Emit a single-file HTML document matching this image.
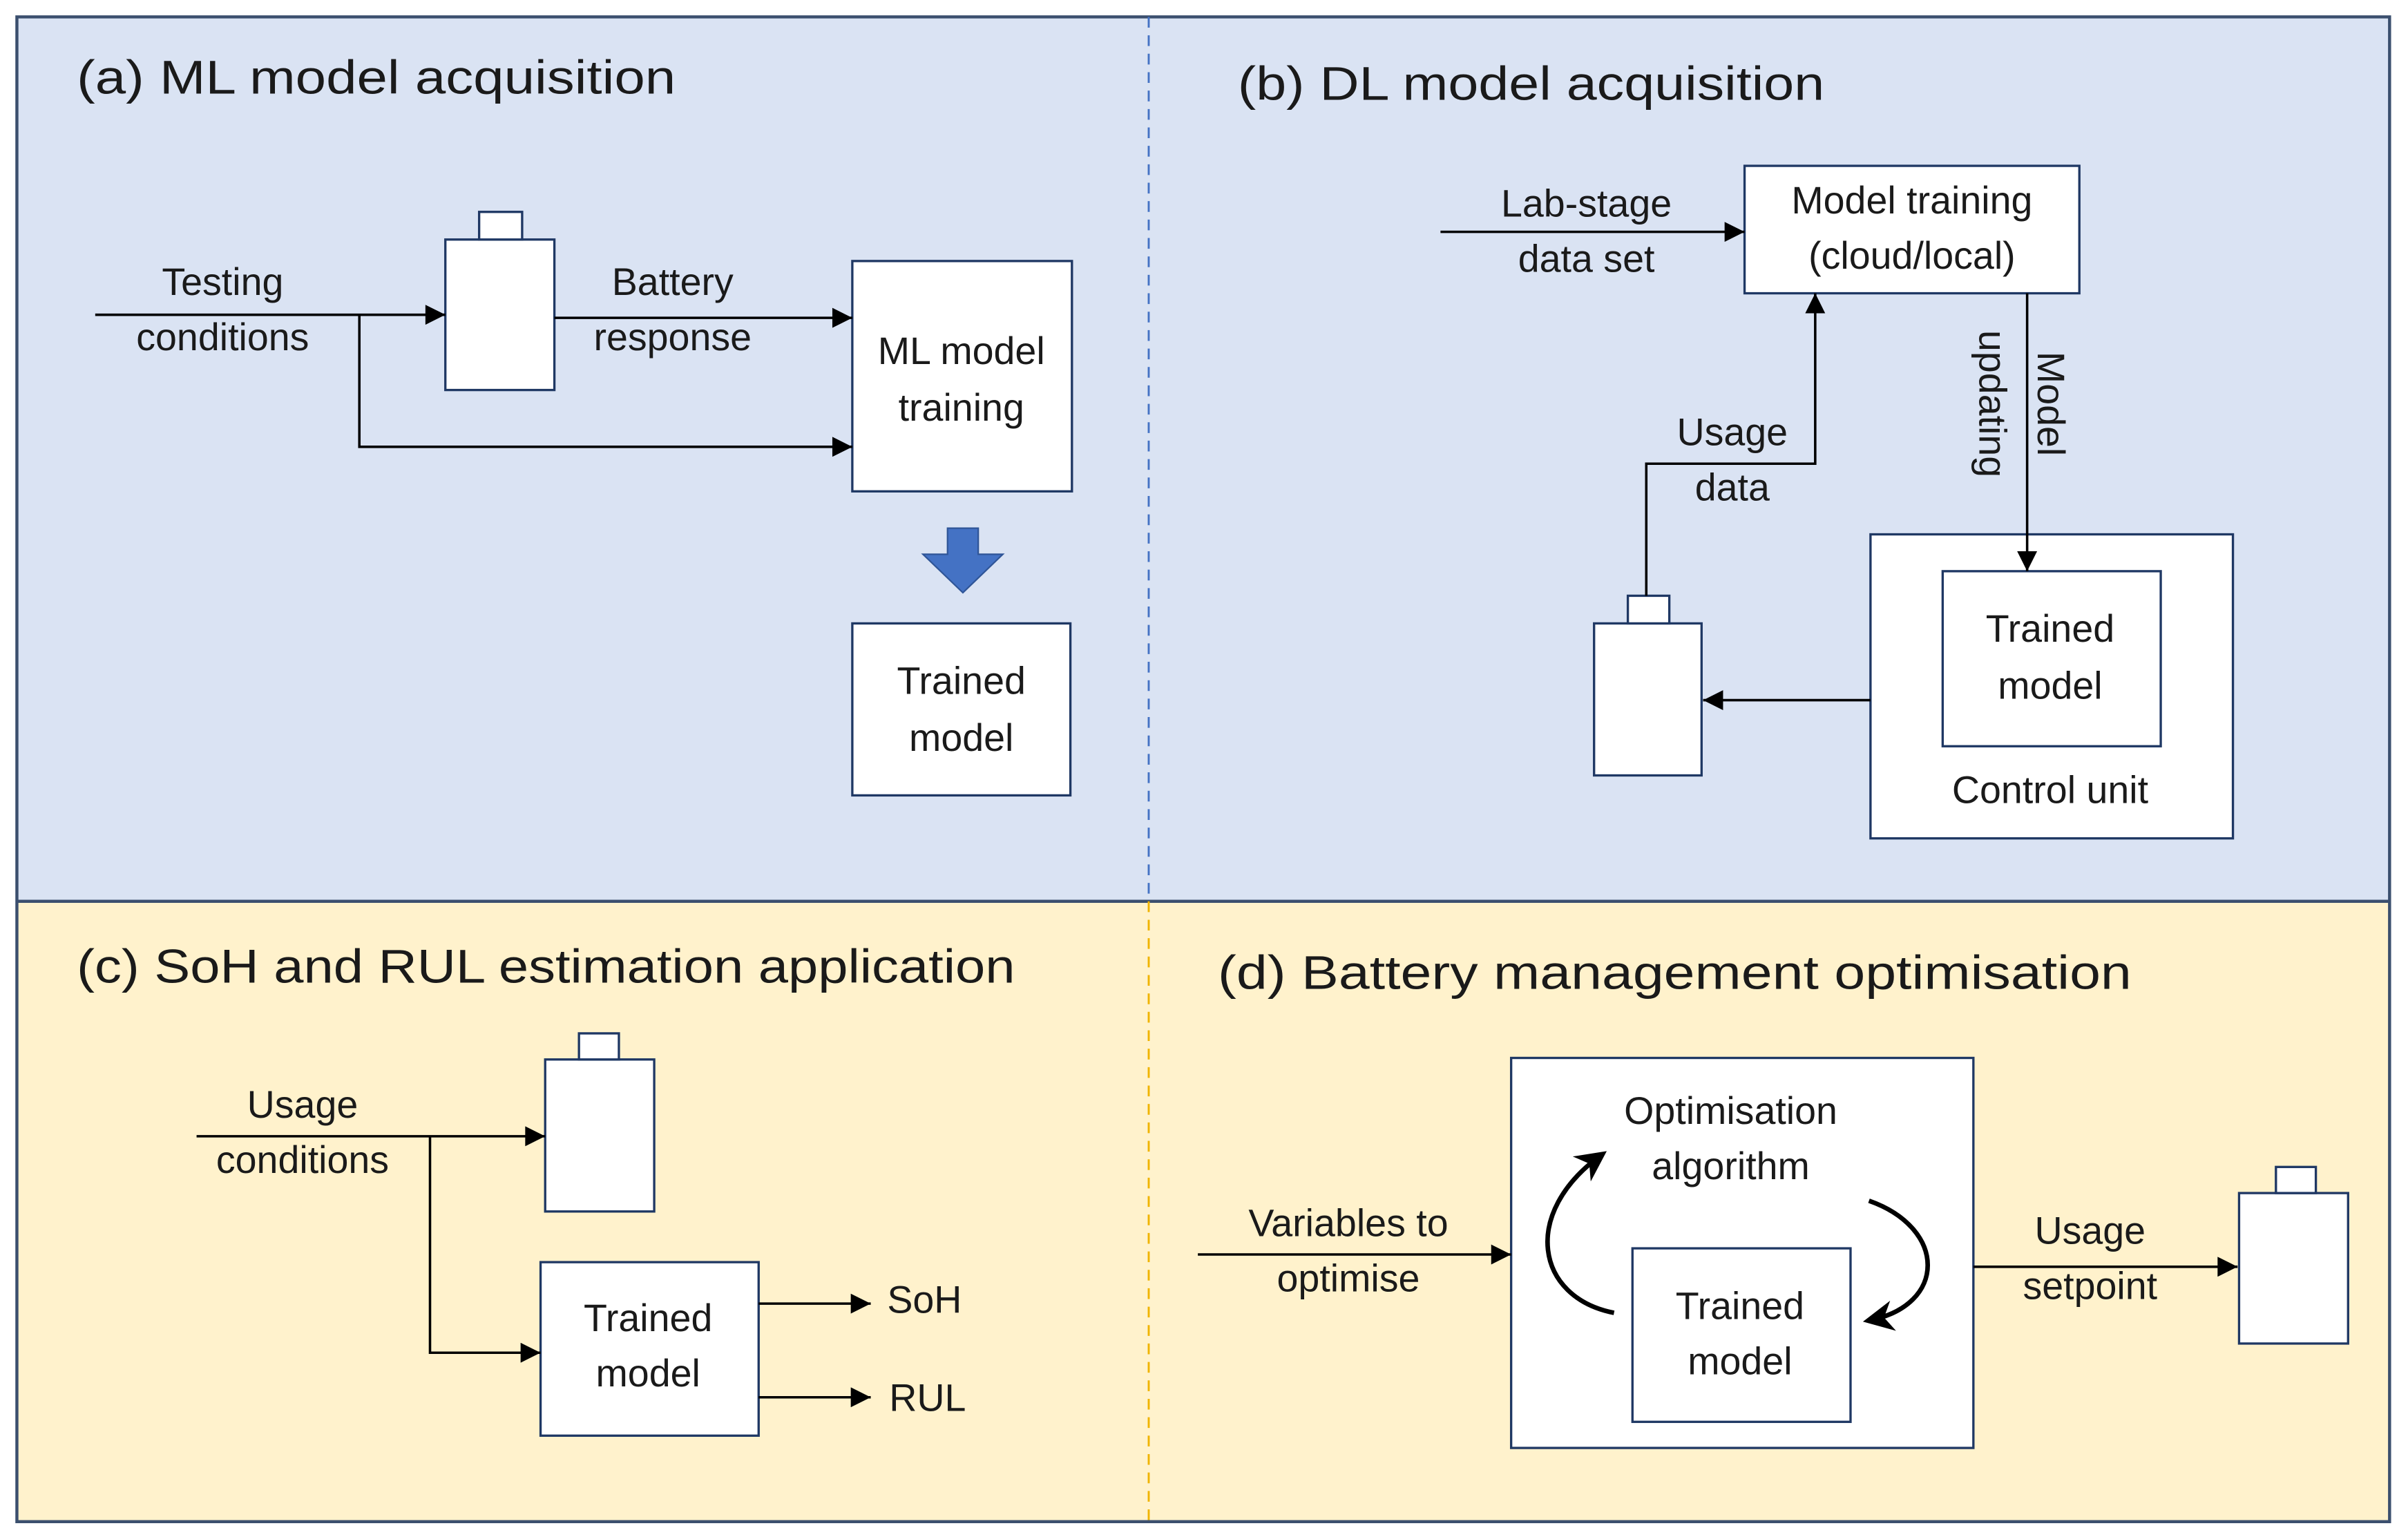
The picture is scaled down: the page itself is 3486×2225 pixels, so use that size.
<!DOCTYPE html>
<html><head><meta charset="utf-8"><style>html,body{margin:0;padding:0;background:#fff}svg{display:block}</style></head>
<body>
<svg width="3486" height="2225" viewBox="0 0 1568 1001" preserveAspectRatio="none" xmlns="http://www.w3.org/2000/svg" font-family="Liberation Sans, sans-serif" fill="#1a1a1a">
<defs>
<marker id="ah" viewBox="0 0 10 10" refX="10" refY="5" markerWidth="14" markerHeight="13" markerUnits="userSpaceOnUse" orient="auto"><path d="M0,0 L10,5 L0,10 z" fill="#000"/></marker>
<marker id="ah2" viewBox="0 0 10 10" refX="8" refY="5" markerWidth="20" markerHeight="20" markerUnits="userSpaceOnUse" orient="auto"><path d="M0,0 L10,5 L0,10 L3,5 z" fill="#000"/></marker>
</defs>
<rect x="11" y="11" width="1545" height="576" fill="#dae3f3"/>
<rect x="11" y="587" width="1545" height="404" fill="#fff2cc"/>
<rect x="11" y="11" width="1545" height="980" fill="none" stroke="#3b4f6e" stroke-width="2"/>
<line x1="11" y1="587" x2="1556" y2="587" stroke="#3b4f6e" stroke-width="2"/>
<line x1="748" y1="11" x2="748" y2="587" stroke="#4472c4" stroke-width="1.3" stroke-dasharray="7,5"/>
<line x1="748" y1="587" x2="748" y2="991" stroke="#f0b400" stroke-width="1.3" stroke-dasharray="7,5"/>

<g stroke="#1f3864" stroke-width="1.5" fill="#fff">
<rect x="290" y="156" width="71" height="98"/><rect x="312" y="138" width="28" height="18"/>
<rect x="555" y="170" width="143" height="150"/>
<rect x="555" y="406" width="142" height="112"/>
<rect x="1136" y="108" width="218" height="83"/>
<rect x="1218" y="348" width="236" height="198"/>
<rect x="1265" y="372" width="142" height="114"/>
<rect x="1038" y="406" width="70" height="99"/><rect x="1060" y="388" width="27" height="18"/>
<rect x="355" y="690" width="71" height="99"/><rect x="377" y="673" width="26" height="17"/>
<rect x="352" y="822" width="142" height="113"/>
<rect x="984" y="689" width="301" height="254"/>
<rect x="1063" y="813" width="142" height="113"/>
<rect x="1458" y="777" width="71" height="98"/><rect x="1482" y="760" width="26" height="17"/>
</g>

<g stroke="#000" stroke-width="1.6" fill="none" marker-end="url(#ah)">
<line x1="62" y1="205" x2="290" y2="205"/>
<polyline points="234,205 234,291 555,291"/>
<line x1="361" y1="207" x2="555" y2="207"/>
<line x1="938" y1="151" x2="1136" y2="151"/>
<line x1="1320" y1="191" x2="1320" y2="372"/>
<line x1="1218" y1="456" x2="1109" y2="456"/>
<polyline points="1072,388 1072,302 1182,302 1182,191"/>
<line x1="128" y1="740" x2="355" y2="740"/>
<polyline points="280,740 280,881 352,881"/>
<line x1="494" y1="849" x2="567" y2="849"/>
<line x1="494" y1="910" x2="567" y2="910"/>
<line x1="780" y1="817" x2="984" y2="817"/>
<line x1="1285" y1="825" x2="1457" y2="825"/>
</g>
<g stroke="#000" stroke-width="3" fill="none" marker-end="url(#ah2)">
<path d="M1051,855 C1000,845 990,790 1043,752"/>
<path d="M1217,782 C1268,800 1268,850 1217,860"/>
</g>
<path d="M617,344 L637,344 L637,361 L653,361 L627,386 L601,361 L617,361 z" fill="#4472c4" stroke="#2f5597" stroke-width="1"/>

<g font-size="31" lengthAdjust="spacingAndGlyphs">
<text x="50" y="61" textLength="390" lengthAdjust="spacingAndGlyphs">(a) ML model acquisition</text>
<text x="806" y="65" textLength="382" lengthAdjust="spacingAndGlyphs">(b) DL model acquisition</text>
<text x="50" y="640" textLength="611" lengthAdjust="spacingAndGlyphs">(c) SoH and RUL estimation application</text>
<text x="793" y="644" textLength="595" lengthAdjust="spacingAndGlyphs">(d) Battery management optimisation</text>
</g>
<g font-size="25" text-anchor="middle">
<text x="145" y="192">Testing</text><text x="145" y="228">conditions</text>
<text x="438" y="192">Battery</text><text x="438" y="228">response</text>
<text x="626" y="237">ML model</text><text x="626" y="274">training</text>
<text x="626" y="452">Trained</text><text x="626" y="489">model</text>
<text x="1033" y="141">Lab-stage</text><text x="1033" y="177">data set</text>
<text x="1245" y="139">Model training</text><text x="1245" y="175">(cloud/local)</text>
<text x="1128" y="290">Usage</text><text x="1128" y="326">data</text>
<text x="1335" y="418">Trained</text><text x="1335" y="455">model</text>
<text x="1335" y="523">Control unit</text>
<text transform="translate(1327,263) rotate(90)">Model</text>
<text transform="translate(1289,263) rotate(90)">updating</text>
<text x="197" y="728">Usage</text><text x="197" y="764">conditions</text>
<text x="422" y="867">Trained</text><text x="422" y="903">model</text>
<text x="602" y="855">SoH</text><text x="604" y="919">RUL</text>
<text x="1127" y="732">Optimisation</text><text x="1127" y="768">algorithm</text>
<text x="1133" y="859">Trained</text><text x="1133" y="895">model</text>
<text x="878" y="805">Variables to</text><text x="878" y="841">optimise</text>
<text x="1361" y="810">Usage</text><text x="1361" y="846">setpoint</text>
</g>
</svg>
</body></html>
